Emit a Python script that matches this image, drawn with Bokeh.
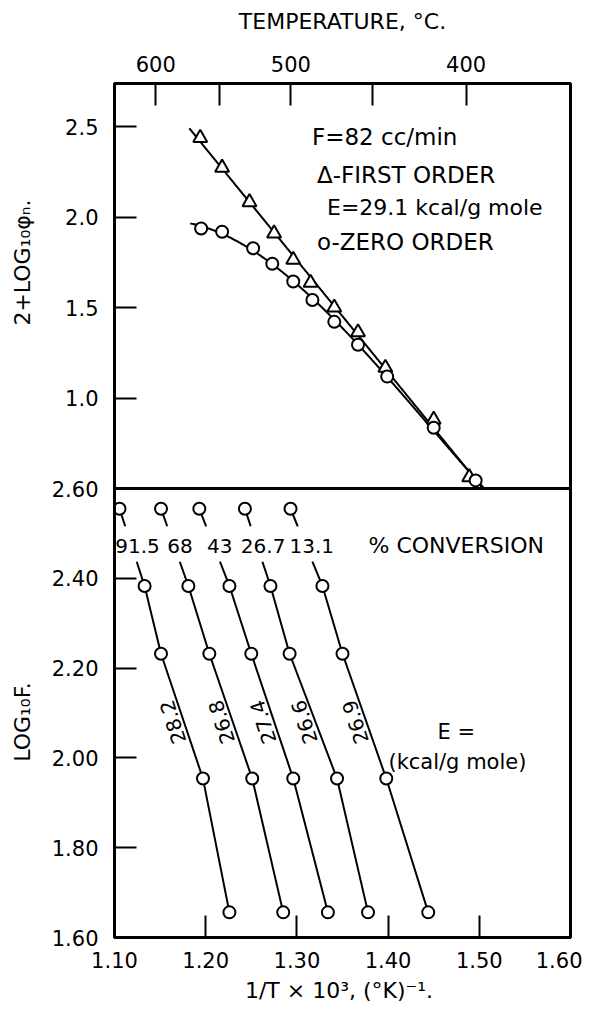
import numpy as np
from bokeh.plotting import figure
from bokeh.layouts import row
from bokeh.models import FixedTicker, Range1d, LinearAxis, Span
from bokeh.embed import file_html
from bokeh.resources import INLINE
from bokeh.core.properties import value

# ---------------- data ----------------
# Top panel: F = 82 cc/min, 2 + log10(phi_n) vs 1/T x 10^3
first_order_x = [1.194, 1.218, 1.248, 1.275, 1.296, 1.315, 1.341, 1.367, 1.397, 1.450, 1.489]
first_order_y = [2.439, 2.275, 2.084, 1.911, 1.765, 1.638, 1.501, 1.364, 1.168, 0.881, 0.563]
zero_order_x = [1.195, 1.218, 1.252, 1.273, 1.296, 1.317, 1.341, 1.367, 1.399, 1.450, 1.496]
zero_order_y = [1.938, 1.920, 1.829, 1.743, 1.645, 1.543, 1.422, 1.295, 1.119, 0.836, 0.545]

# Bottom panel: log10 F vs 1/T x 10^3 for several % conversions
log_F = [2.555, 2.383, 2.232, 1.954, 1.656]
conversions = ["91.5", "68", "43", "26.7", "13.1"]
activation_E = ["28.2", "26.8", "27.4", "26.6", "26.9"]
inv_T_91_5 = [1.1055, 1.133, 1.151, 1.197, 1.226]
inv_T_68 = [1.151, 1.181, 1.204, 1.251, 1.285]
inv_T_43 = [1.193, 1.226, 1.250, 1.296, 1.334]
inv_T_26_7 = [1.243, 1.271, 1.292, 1.344, 1.378]
inv_T_13_1 = [1.293, 1.328, 1.350, 1.398, 1.444]
inv_T_series = [inv_T_91_5, inv_T_68, inv_T_43, inv_T_26_7, inv_T_13_1]

# Axis ticks
x_ticks = [1.10, 1.20, 1.30, 1.40, 1.50, 1.60]
x_tick_labels = ["1.10", "1.20", "1.30", "1.40", "1.50", "1.60"]
top_y_ticks = [1.0, 1.5, 2.0, 2.5]
top_y_labels = ["1.0", "1.5", "2.0", "2.5"]
bottom_y_ticks = [1.60, 1.80, 2.00, 2.20, 2.40, 2.60]
bottom_y_labels = ["1.60", "1.80", "2.00", "2.20", "2.40", "2.60"]
temp_ticks_C = [600, 550, 500, 450, 400]
temp_labels = ["600", "", "500", "", "400"]

# ---------------- layout constants ----------------
FONT = "DejaVu Sans"
LW = 2
BOT_LO, BOT_HI = 1.60, 2.60     # lower panel range
TOP_LO, TOP_HI = 0.50, 2.74     # upper panel range
BOT_PX, TOP_PX = 450, 406       # panel heights in pixels
Y_END = BOT_HI + (BOT_HI - BOT_LO) * TOP_PX / BOT_PX
TOP_START = TOP_LO - (TOP_HI - TOP_LO) * BOT_PX / TOP_PX
BORDER_TOP, BORDER_BOTTOM = 83, 66
HEIGHT = BORDER_TOP + BOT_PX + TOP_PX + BORDER_BOTTOM
LABEL_W = 44


def top_to_main(t):
    return BOT_LO + (t - TOP_START) * (Y_END - BOT_LO) / (TOP_HI - TOP_START)


y_range = Range1d(BOT_LO, Y_END)

p = figure(width=582 - LABEL_W, height=HEIGHT, x_range=Range1d(1.10, 1.60),
           y_range=y_range, output_backend="svg", toolbar_location=None,
           min_border_left=114 - LABEL_W, min_border_right=12,
           min_border_top=BORDER_TOP, min_border_bottom=BORDER_BOTTOM)
p.extra_y_ranges = {"top": Range1d(TOP_START, TOP_HI)}
p.outline_line_color = "black"
p.outline_line_width = 3
p.grid.visible = False
p.background_fill_color = "white"
p.border_fill_color = "white"

bottom_axis = p.below[0]
left_axis = p.left[0]
top_axis = LinearAxis()
p.add_layout(top_axis, "above")


def style_axis(ax):
    ax.axis_line_width = 3
    ax.major_tick_in = 22
    ax.major_tick_out = 0
    ax.minor_tick_in = 0
    ax.minor_tick_out = 0
    ax.major_tick_line_width = 2
    ax.major_label_text_font = FONT
    ax.major_label_text_font_size = "21px"
    ax.major_label_text_color = "black"
    ax.axis_label_text_font = FONT
    ax.axis_label_text_font_size = "22px"
    ax.axis_label_text_font_style = "normal"
    ax.axis_label_text_color = "black"


for ax in (bottom_axis, left_axis, top_axis):
    style_axis(ax)

# bottom x axis
bottom_axis.ticker = FixedTicker(ticks=x_ticks)
bottom_axis.major_label_overrides = dict(zip(x_ticks, x_tick_labels))
bottom_axis.axis_label = "1/T × 10³,  (°K)⁻¹."
bottom_axis.major_label_standoff = 14
bottom_axis.axis_label_standoff = 7

# top temperature axis
temp_x = [1000.0 / (t + 273.15) for t in temp_ticks_C]
top_axis.ticker = FixedTicker(ticks=temp_x)
top_axis.major_label_overrides = dict(zip(temp_x, temp_labels))
top_axis.axis_label = "TEMPERATURE, °C."
top_axis.major_label_standoff = 12
top_axis.axis_label_standoff = 19

# left axis carrying both panels
left_ticks = bottom_y_ticks + [top_to_main(t) for t in top_y_ticks]
left_axis.ticker = FixedTicker(ticks=left_ticks)
left_axis.major_label_overrides = dict(zip(left_ticks, bottom_y_labels + top_y_labels))
left_axis.major_label_standoff = 16

# panel divider
p.add_layout(Span(location=BOT_HI, dimension="width", line_color="black", line_width=3))

# ---------------- axis titles (separate narrow strip on the left) ----------------
lab = figure(width=LABEL_W, height=HEIGHT, x_range=Range1d(0, 1), y_range=y_range,
             output_backend="svg", toolbar_location=None,
             x_axis_location=None, y_axis_location=None,
             min_border_left=0, min_border_right=0,
             min_border_top=BORDER_TOP, min_border_bottom=BORDER_BOTTOM)
lab.outline_line_color = None
lab.grid.visible = False
lab.background_fill_color = "white"
lab.border_fill_color = "white"
lab.text(x=[0.5, 0.5], y=[top_to_main(1.75), 2.08], text=["2+LOG₁₀φₙ.", "LOG₁₀F."],
         angle=np.pi / 2, text_align="center", text_baseline="middle",
         text_font=value(FONT), text_font_size="22px", text_color="black")

# ---------------- upper panel ----------------
c1 = np.polyfit(first_order_x, first_order_y, 1)
xs1 = np.linspace(1.182, 1.52, 200)
ys1 = np.polyval(c1, xs1)
keep1 = ys1 >= TOP_LO
p.line(xs1[keep1], ys1[keep1], line_color="black", line_width=LW, y_range_name="top")
c0 = np.polyfit(zero_order_x, zero_order_y, 3)
xs0 = np.linspace(1.183, 1.52, 300)
ys0 = np.polyval(c0, xs0)
keep0 = ys0 >= TOP_LO
p.line(xs0[keep0], ys0[keep0], line_color="black", line_width=LW, y_range_name="top")

p.scatter(first_order_x, first_order_y, marker="triangle", size=14, fill_color="white",
          line_color="black", line_width=LW, y_range_name="top")
p.scatter(zero_order_x, zero_order_y, marker="circle", size=12, fill_color="white",
          line_color="black", line_width=LW, y_range_name="top")

p.text(x=[1.3165], y=[2.442], text=["F=82 cc/min"], text_font=value(FONT),
       text_font_size="23px", text_baseline="middle", text_align="left", y_range_name="top")
p.text(x=[1.322], y=[2.232], text=["Δ-FIRST  ORDER"], text_font=value(FONT),
       text_font_size="23px", text_baseline="middle", text_align="left", y_range_name="top")
p.text(x=[1.333], y=[2.056], text=["E=29.1 kcal/g mole"], text_font=value(FONT),
       text_font_size="22px", text_baseline="middle", text_align="left", y_range_name="top")
p.text(x=[1.322], y=[1.863], text=["o-ZERO  ORDER"], text_font=value(FONT),
       text_font_size="23px", text_baseline="middle", text_align="left", y_range_name="top")

# ---------------- lower panel ----------------
GAP_HI = 2.516
GAP_LO = 2.437
LABEL_Y = 2.473
E_LABEL_Y = 2.08

conv_x, e_x = [], []
for xs in inv_T_series:
    ys = log_F
    seg_x = [xs[1], xs[0]]
    seg_y = [ys[1], ys[0]]
    xg_hi = float(np.interp(GAP_HI, seg_y, seg_x))
    xg_lo = float(np.interp(GAP_LO, seg_y, seg_x))
    p.line([xs[0], xg_hi], [ys[0], GAP_HI], line_color="black", line_width=LW)
    p.line([xg_lo] + xs[1:], [GAP_LO] + ys[1:], line_color="black", line_width=LW)
    conv_x.append(float(np.interp(LABEL_Y, seg_y, seg_x)))
    e_x.append(float(np.interp(E_LABEL_Y, [ys[3], ys[2]], [xs[3], xs[2]])))
    p.scatter(xs, ys, marker="circle", size=12, fill_color="white",
              line_color="black", line_width=LW)

p.text(x=conv_x, y=[LABEL_Y] * len(conv_x), text=conversions, x_offset=6,
       text_font=value(FONT), text_font_size="20px", text_align="center",
       text_baseline="middle")
p.text(x=e_x, y=[E_LABEL_Y] * len(e_x), text=activation_E, x_offset=-11,
       angle=1.88, text_font=value(FONT), text_font_size="20px",
       text_align="center", text_baseline="middle")
p.text(x=[1.4747], y=[LABEL_Y], text=["% CONVERSION"], text_font=value(FONT),
       text_font_size="22px", text_align="center", text_baseline="middle")
p.text(x=[1.4747], y=[2.058], text=["E ="], text_font=value(FONT),
       text_font_size="21px", text_align="center", text_baseline="middle")
p.text(x=[1.476], y=[1.991], text=["(kcal/g mole)"], text_font=value(FONT),
       text_font_size="21px", text_align="center", text_baseline="middle")

layout = row(lab, p, spacing=0)
open("out.html", "w").write(file_html(layout, INLINE))
